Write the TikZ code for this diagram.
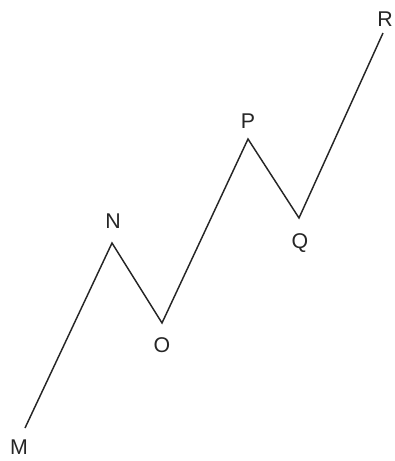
\documentclass[tikz,border=0pt]{standalone}
\usepackage{fontspec}
\setmainfont{Liberation Sans}
\begin{document}
\begin{tikzpicture}[
  x=0.75pt, y=-0.75pt,
  lbl/.style={inner sep=0pt, font=\fontsize{16}{18}\selectfont, text=black!85},
  zig/.style={line width=1.1pt, draw=black!85, line join=miter}
]
  \useasboundingbox (0,0) rectangle (394,461);

  % Vértices de la línea quebrada
  \coordinate (m) at (25,428);
  \coordinate (n) at (112,243);
  \coordinate (o) at (162,323);
  \coordinate (p) at (248,139);
  \coordinate (q) at (299,218);
  \coordinate (r) at (383,33);

  % Etiquetas
  \node[lbl] (lm) at (19,447) {M};
  \node[lbl] (ln) at (113,221) {N};
  \node[lbl] (lo) at (162,345) {O};
  \node[lbl] (lp) at (248,121) {P};
  \node[lbl] (lq) at (300,243) {Q};
  \node[lbl] (lr) at (385,19) {R};

  % Segmentos
  \draw[zig] (m) -- (n) -- (o) -- (p) -- (q) -- (r);
\end{tikzpicture}
\end{document}
